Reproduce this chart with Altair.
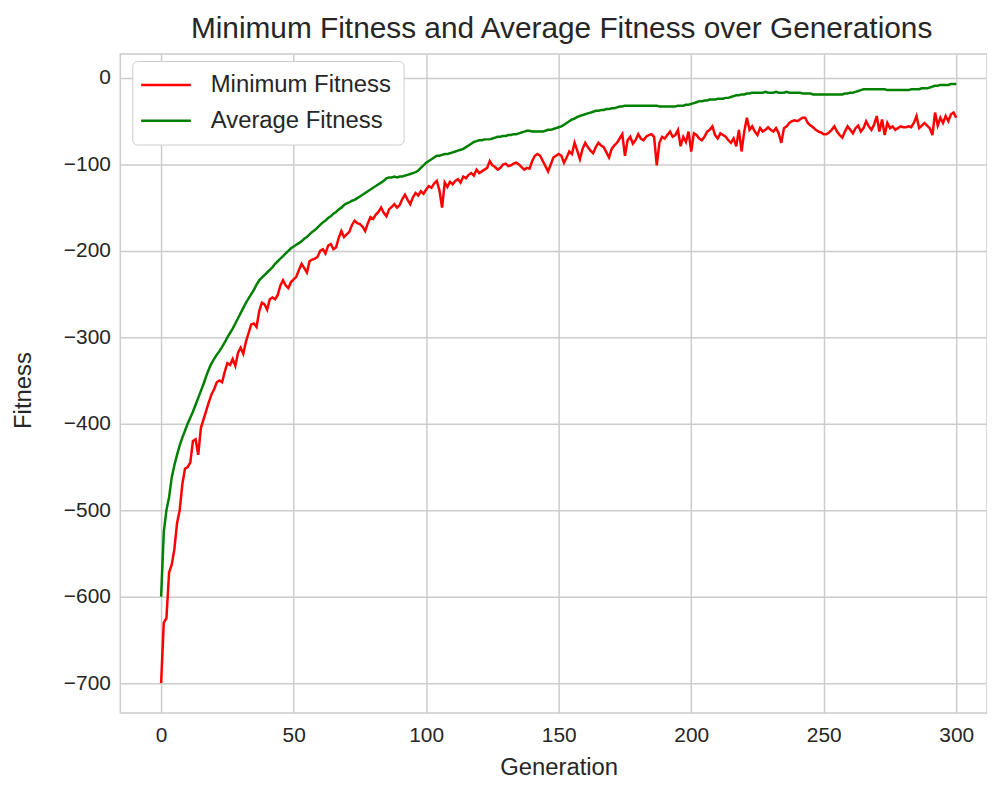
import altair as alt
import pandas as pd

generations = list(range(301))

min_fitness = [
    -700, -630, -625, -572, -563, -545, -515, -500, -470, -452,
    -450, -445, -420, -418, -436, -405, -395, -385, -375, -366,
    -360, -352, -350, -352, -340, -330, -332, -325, -333, -318,
    -312, -319, -305, -295, -285, -284, -288, -270, -260, -262,
    -268, -256, -254, -256, -251, -240, -234, -240, -243, -236,
    -233, -230, -222, -215, -220, -225, -212, -210, -209, -207,
    -200, -198, -203, -194, -192, -198, -196, -185, -177, -184,
    -181, -178, -170, -165, -168, -169, -172, -177, -168, -161,
    -163, -158, -155, -150, -156, -160, -152, -149, -146, -150,
    -147, -140, -135, -141, -146, -138, -133, -136, -131, -134,
    -129, -125, -127, -122, -119, -130, -150, -121, -126, -120,
    -123, -119, -117, -121, -114, -116, -112, -110, -113, -106,
    -110, -108, -106, -104, -96, -101, -103, -106, -104, -100,
    -99, -102, -101, -99, -98, -100, -103, -106, -104, -105,
    -96, -90, -88, -90, -96, -102, -108, -100, -92, -90,
    -88, -90, -98, -92, -85, -88, -75, -84, -94, -82,
    -75, -80, -84, -87, -80, -75, -78, -80, -86, -92,
    -82, -78, -75, -70, -65, -90, -72, -68, -76, -72,
    -65, -70, -72, -68, -66, -65, -68, -101, -75, -68,
    -70, -66, -62, -68, -66, -60, -79, -68, -74, -62,
    -85, -64, -66, -70, -72, -68, -62, -60, -56, -66,
    -70, -64, -66, -68, -72, -75, -70, -79, -60, -85,
    -62, -46, -60, -56, -62, -66, -58, -62, -60, -57,
    -60, -62, -58, -64, -75, -58, -56, -52, -50, -49,
    -50, -48, -46, -46, -52, -55, -57, -60, -62, -63,
    -65, -65, -63, -60, -56, -62, -66, -69, -62, -56,
    -60, -64, -58, -55, -62, -58, -50, -56, -60, -54,
    -44, -62, -48, -66, -52, -58, -56, -60, -58, -56,
    -57, -57, -56, -57, -52, -44, -58, -55, -52, -55,
    -58, -66, -40, -55, -46, -52, -44, -50, -42, -40,
    -46,
]

avg_fitness = [
    -600, -525, -500, -485, -462, -448, -436, -425, -416, -408,
    -400, -393, -386, -378, -370, -362, -354, -345, -337, -330,
    -325, -320, -316, -311, -306, -300, -295, -290, -284, -278,
    -272, -266, -260, -255, -250, -245, -239, -234, -231, -228,
    -225, -222, -219, -215, -212, -209, -206, -203, -200, -197,
    -195, -193, -191, -189, -186, -184, -181, -178, -176, -173,
    -170, -167, -165, -162, -160, -157, -155, -152, -150, -147,
    -145, -144, -142, -141, -139, -137, -135, -133, -131, -129,
    -127, -125, -123, -121, -119, -116, -115, -115, -114, -115,
    -114, -114, -113, -112, -111, -110, -109, -107, -104, -101,
    -98, -96, -94, -92, -90, -90, -89, -88, -88, -87,
    -86, -85, -84, -83, -82, -80, -78, -76, -74, -73,
    -72, -72, -71, -71, -71, -70, -69, -68, -68, -67,
    -67, -66, -66, -65, -65, -64, -63, -62, -61, -61,
    -62, -62, -62, -62, -62, -61, -60, -60, -59, -58,
    -57, -56, -54, -52, -50, -48, -47, -45, -44, -43,
    -42, -41, -40, -39, -38, -38, -37, -37, -36, -36,
    -35, -35, -34, -33, -33, -32, -32, -32, -32, -32,
    -32, -32, -32, -32, -32, -32, -32, -32, -33, -33,
    -33, -33, -33, -33, -33, -32, -32, -32, -31, -31,
    -30, -29, -28, -27, -27, -26, -26, -25, -25, -25,
    -24, -24, -24, -23, -23, -22, -21, -20, -20, -19,
    -19, -18, -18, -17, -17, -17, -17, -17, -16, -17,
    -17, -17, -16, -17, -17, -17, -16, -17, -17, -17,
    -17, -17, -18, -18, -18, -18, -19, -19, -19, -19,
    -19, -19, -19, -19, -19, -19, -19, -19, -18, -18,
    -17, -17, -16, -15, -14, -13, -13, -13, -13, -13,
    -13, -13, -13, -13, -14, -14, -14, -14, -14, -14,
    -14, -14, -14, -13, -13, -13, -13, -12, -12, -12,
    -11, -10, -9, -9, -8, -8, -8, -8, -7, -7,
    -7,
]

series_names = ["Minimum Fitness", "Average Fitness"]
series_colors = ["#ff0000", "#008000"]
x_ticks = [0, 50, 100, 150, 200, 250, 300]
y_ticks = [0, -100, -200, -300, -400, -500, -600, -700]

n = len(generations)
df = pd.DataFrame({
    "Generation": generations + generations,
    "Fitness": min_fitness + avg_fitness,
    "Series": [series_names[0]] * n + [series_names[1]] * n,
})

FONT = "Liberation Sans"
TXT = "#262626"

chart = alt.Chart(df).mark_line(strokeWidth=2.5).encode(
    x=alt.X(
        "Generation:Q",
        scale=alt.Scale(domain=[-15.4, 311.6], nice=False, zero=False),
        axis=alt.Axis(values=x_ticks, title="Generation", labelPadding=12,
                      titlePadding=10, titleX=441),
    ),
    y=alt.Y(
        "Fitness:Q",
        scale=alt.Scale(domain=[-734.65, 27.65], nice=False, zero=False),
        axis=alt.Axis(values=y_ticks, title="Fitness", labelPadding=10,
                      titlePadding=28, titleY=338),
    ),
    color=alt.Color(
        "Series:N",
        scale=alt.Scale(domain=series_names, range=series_colors),
        legend=alt.Legend(
            title=None, orient="none", legendX=12, legendY=7,
            direction="vertical", symbolType="M-3,0H7", symbolSize=100,
            symbolStrokeWidth=2.5, labelFontSize=24, labelFont=FONT,
            labelColor=TXT, labelLimit=0, padding=12, rowPadding=12,
            labelOffset=43, strokeColor="#cccccc", cornerRadius=5,
            fillColor="white",
        ),
    ),
).properties(
    width=872,
    height=663,
    autosize=alt.AutoSizeParams(type="none"),
    padding={"left": 113, "top": 44, "right": 0, "bottom": 68},
    title=alt.TitleParams(
        "Minimum Fitness and Average Fitness over Generations",
        fontSize=30, font=FONT, fontWeight="normal", color=TXT,
        offset=10, dx=8, anchor="middle",
    ),
).configure_view(
    stroke="#cccccc", strokeWidth=1.5
).configure_axis(
    domain=False, ticks=False, gridColor="#cccccc", gridWidth=1.5,
    labelFont=FONT, labelFontSize=21, labelColor=TXT,
    titleFont=FONT, titleFontSize=24, titleFontWeight="normal", titleColor=TXT,
)

chart.save("out.html", embed_options={"renderer": "svg", "actions": False})
